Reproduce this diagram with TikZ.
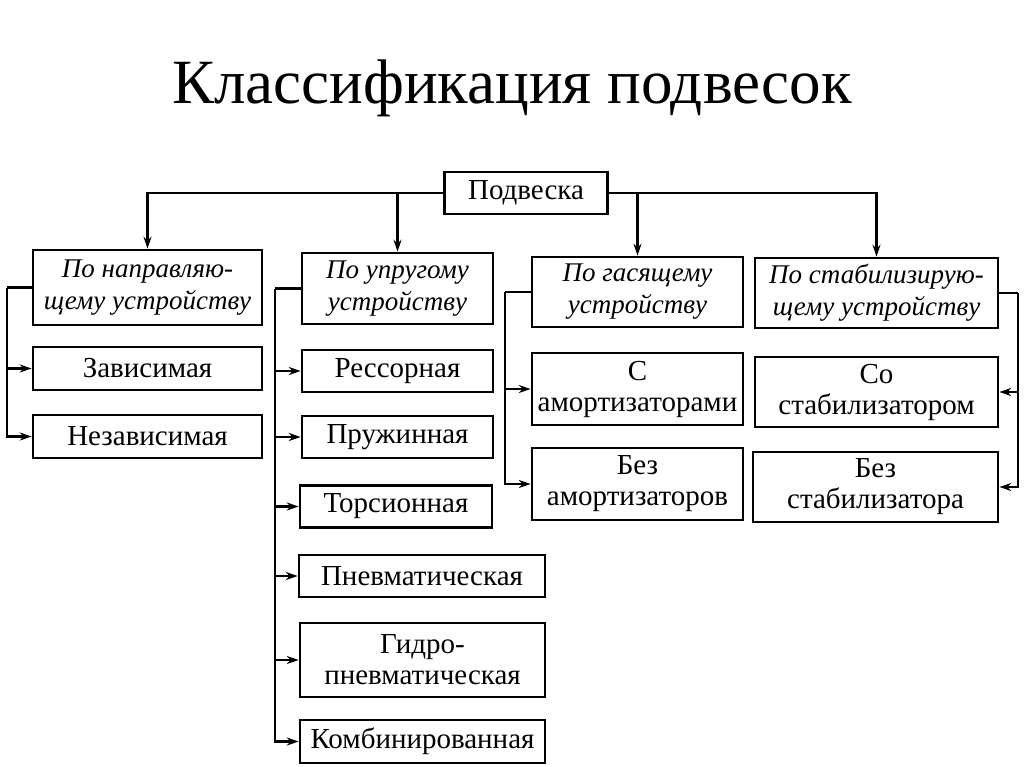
\documentclass[tikz,border=0pt]{standalone}
\usepackage{fontspec}
\setmainfont{Liberation Serif}
\usetikzlibrary{arrows.meta}
\begin{document}
\begin{tikzpicture}[x=1pt,y=-1pt,
  bx/.style={draw, line width=2.6pt, inner sep=0pt, align=center,
    font=\fontsize{29}{31}\selectfont},
  hd/.style={bx, font=\fontsize{27}{32}\selectfont\itshape},
  ln/.style={line width=2.3pt},
  arr/.style={ln, -{Stealth[length=12pt,width=8pt]}}]
\useasboundingbox (0,0) rectangle (1024,767);
\node[font=\fontsize{63}{70}\selectfont] (T) at (512,88) {Классификация подвесок};
% root
\node[bx, minimum width=163pt, minimum height=42pt] (P) at (526,193) {Подвеска};
% heads
\node[hd, minimum width=229pt, minimum height=75pt] (A) at (147.5,287.5) {По направляю-\\щему устройству};
\node[hd, minimum width=191pt, minimum height=71pt] (B) at (397.5,288.5) {По упругому\\устройству};
\node[hd, minimum width=211pt, minimum height=70pt] (C) at (637.5,292) {По гасящему\\устройству};
\node[hd, minimum width=243pt, minimum height=70pt] (D) at (876.5,293) {По стабилизирую-\\щему устройству};
% column 1
\node[bx, minimum width=229pt, minimum height=43pt] (A1) at (147.5,368.5) {Зависимая};
\node[bx, minimum width=229pt, minimum height=43pt] (A2) at (147.5,436.5) {Независимая};
% column 2
\node[bx, minimum width=191pt, minimum height=42pt] (B1) at (397.5,371) {Рессорная};
\node[bx, minimum width=191pt, minimum height=42pt] (B2) at (397.5,437) {Пружинная};
\node[bx, minimum width=192pt, minimum height=42pt] (B3) at (396,506.5) {Торсионная};
\node[bx, minimum width=246pt, minimum height=42pt] (B4) at (422,576) {Пневматическая};
\node[bx, minimum width=245pt, minimum height=74pt] (B5) at (422.5,660) {Гидро-\\пневматическая};
\node[bx, minimum width=245pt, minimum height=43pt] (B6) at (422.5,741.5) {Комбинированная};
% column 3
\node[bx, minimum width=211pt, minimum height=72pt] (C1) at (637.5,389) {С\\амортизаторами};
\node[bx, minimum width=211pt, minimum height=72pt] (C2) at (637.5,484) {Без\\амортизаторов};
% column 4
\node[bx, minimum width=243pt, minimum height=70pt] (D1) at (876.5,392) {Со\\стабилизатором};
\node[bx, minimum width=245pt, minimum height=70pt] (D2) at (875.5,487) {Без\\стабилизатора};
% top connectors
\draw[arr] (P.west) -| (A.north);
\draw[arr] (P.west -| B.north) -- (B.north);
\draw[arr] (P.east) -| (D.north);
\draw[arr] (P.east -| C.north) -- (C.north);
% buses
\coordinate (ba) at (7,287.5);
\coordinate (bb) at (275,288.5);
\coordinate (bc) at (505,292);
\coordinate (bd) at (1018,293);
\draw[ln] (A.west) -- (ba);
\draw[arr] (ba) |- (A1.west);
\draw[arr] (ba) |- (A2.west);
\draw[ln] (B.west) -- (bb);
\foreach \n in {B1,B2,B3,B4,B5,B6} \draw[arr] (bb) |- (\n.west);
\draw[ln] (C.west) -- (bc);
\draw[arr] (bc) |- (C1.west);
\draw[arr] (bc) |- (C2.west);
\draw[ln] (D.east) -- (bd);
\draw[arr] (bd) |- (D1.east);
\draw[arr] (bd) |- (D2.east);
\end{tikzpicture}
\end{document}
